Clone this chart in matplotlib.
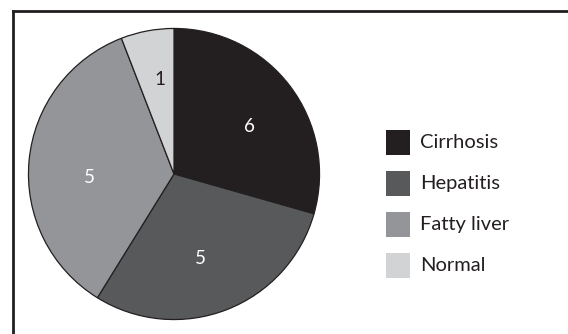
import matplotlib
matplotlib.use("Agg")
import numpy as np
import matplotlib.pyplot as plt
from matplotlib.patches import Rectangle
from matplotlib.lines import Line2D

categories = ["Cirrhosis", "Hepatitis", "Fatty liver", "Normal"]
slice_sizes = [5, 5, 6, 1]
slice_labels = ["6", "5", "5", "1"]
colors = ["#231f20", "#58595b", "#939598", "#d1d3d4"]
label_colors = ["white", "white", "white", "#231f20"]
# small placement tweaks of the in-slice labels (degrees clockwise, radius fraction)
label_angle_nudge = [5, 4, -8, 2]
label_radius = [0.61, 0.605, 0.58, 0.655]

plt.rcParams['font.family'] = ['Lato', 'DejaVu Sans']

fig = plt.figure(figsize=(5.68, 3.34), dpi=100)
W, H = 568, 334

# frame lines (top and left)
fig.add_artist(Line2D([13 / W, 13 / W], [0, 1 - 11 / H], transform=fig.transFigure,
                      color="#231f20", lw=2.0, solid_capstyle="projecting"))
fig.add_artist(Line2D([13 / W, 1], [1 - 11 / H, 1 - 11 / H], transform=fig.transFigure,
                      color="#231f20", lw=2.0, solid_capstyle="projecting"))

cx, cy, r = 174, 174, 147
ax = fig.add_axes([(cx - r) / W, 1 - (cy + r) / H, 2 * r / W, 2 * r / H])
wedges, texts = ax.pie(slice_sizes, labels=slice_labels, colors=colors, startangle=90,
                       counterclock=False, radius=1.0, labeldistance=0.6,
                       wedgeprops=dict(edgecolor="#231f20", linewidth=0.9),
                       textprops=dict(fontsize=13.5))
for w, t, c, dn, rr in zip(wedges, texts, label_colors, label_angle_nudge, label_radius):
    mid = np.deg2rad((w.theta1 + w.theta2) / 2 - dn)
    t.set_position((rr * np.cos(mid), rr * np.sin(mid)))
    t.set_color(c)
    t.set_ha("center")
    t.set_va("center")
ax.set_xlim(-1.01, 1.01)
ax.set_ylim(-1.01, 1.01)
ax.set_aspect("equal")
ax.axis("off")

# legend drawn as squares + labels
x0, y0, sw, sh, step = 386, 130, 24, 25, 41
for i, (cat, col) in enumerate(zip(categories, colors)):
    top = y0 + step * i
    fig.add_artist(Rectangle((x0 / W, 1 - (top + sh) / H), sw / W, sh / H,
                             transform=fig.transFigure, facecolor=col, edgecolor="none"))
    fig.text(420 / W, 1 - (top + sh / 2) / H, cat, fontsize=14.5, color="#231f20",
             ha="left", va="center")

fig.savefig("out.png", dpi=100, facecolor="white")
